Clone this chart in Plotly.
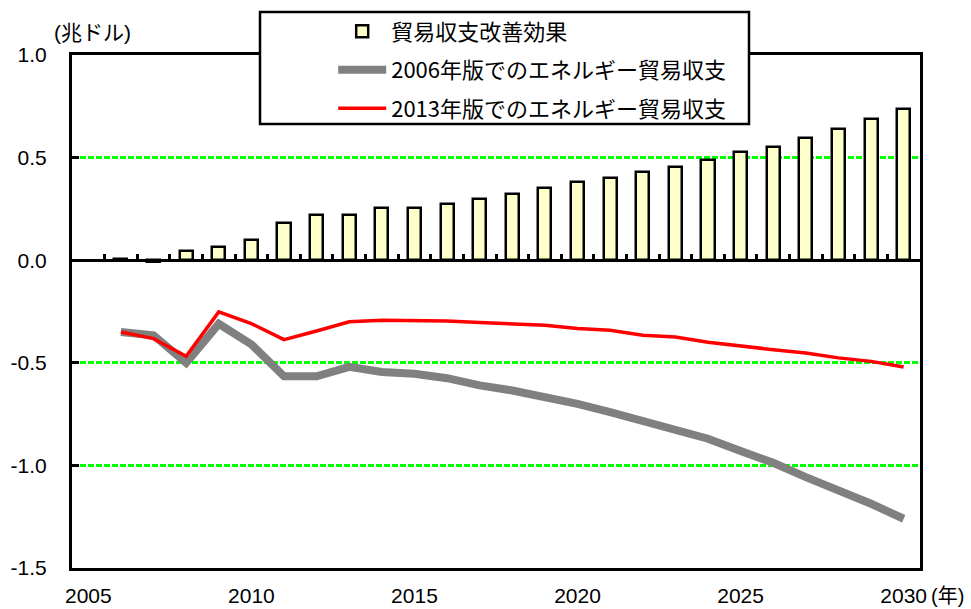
import plotly.graph_objects as go

years = list(range(2005, 2031))
improve = [None, 0.005, -0.008, 0.045, 0.062, 0.098, 0.18, 0.22, 0.22, 0.252, 0.252, 0.275,
           0.30, 0.325, 0.353, 0.379, 0.403, 0.428, 0.452, 0.486, 0.528, 0.553, 0.594,
           0.637, 0.686, 0.735]
line_years = list(range(2006, 2031))
bal_2006 = [-0.35, -0.366, -0.50, -0.31, -0.41, -0.566, -0.566, -0.52, -0.545, -0.553,
            -0.575, -0.61, -0.635, -0.665, -0.70, -0.74, -0.78, -0.82, -0.87, -0.93,
            -0.987, -1.057, -1.12, -1.187, -1.26]
bal_2013 = [-0.35, -0.382, -0.468, -0.252, -0.309, -0.387, -0.345, -0.30, -0.293, -0.293,
            -0.296, -0.304, -0.309, -0.317, -0.333, -0.341, -0.366, -0.374, -0.40, -0.42,
            -0.436, -0.452, -0.476, -0.493, -0.52]
x_ticks = [2005, 2010, 2015, 2020, 2025, 2030]
y_ticks = [1.0, 0.5, 0.0, -0.5, -1.0, -1.5]
y_tick_text = ["1.0", "0.5", "0.0", "-0.5", "-1.0", "-1.5"]
names = ["貿易収支改善効果", "2006年版でのエネルギー貿易収支", "2013年版でのエネルギー貿易収支"]

FONT = "Liberation Sans, Arial, Noto Sans CJK JP"
xr = [2004.5, 2030.5]

fig = go.Figure()
fig.add_trace(go.Scatter(x=line_years, y=bal_2006, mode="lines", name=names[1],
                         line=dict(color="#808080", width=8), legendgroup="b",
                         legendrank=2))
fig.add_trace(go.Scatter(x=line_years, y=bal_2013, mode="lines", name=names[2],
                         line=dict(color="#FF0000", width=3.5), legendgroup="c",
                         legendrank=3))
fig.add_trace(go.Bar(x=years, y=improve, name=names[0], width=0.4, xaxis="x2",
                     marker=dict(color="#FFFFCC", line=dict(color="black", width=2.5)),
                     legendgroup="a", legendrank=1))

fig.update_layout(
    width=971, height=609,
    margin=dict(l=72, r=51, t=55, b=41, autoexpand=False),
    paper_bgcolor="white", plot_bgcolor="white",
    font=dict(family=FONT, size=21, color="black"),
    showlegend=True,
    xaxis=dict(range=xr, tickvals=x_ticks, ticks="", showgrid=False, zeroline=False,
               showline=True, linecolor="black", linewidth=3, mirror=True,
               tickfont=dict(size=21), ticklabelstandoff=7, automargin=False),
    xaxis2=dict(range=xr, overlaying="x", anchor="free", position=0.6, side="bottom",
                tickvals=[y + 0.5 for y in years[:-1]], ticks="inside", ticklen=6,
                tickwidth=2.5, tickcolor="black", showticklabels=False,
                showgrid=False, zeroline=False, showline=False, automargin=False),
    yaxis=dict(range=[-1.5, 1.0], tickvals=y_ticks, ticktext=y_tick_text,
               ticks="inside", ticklen=7, tickwidth=2.5, tickcolor="black",
               showline=True, linecolor="black", linewidth=3, mirror=True,
               showgrid=True, gridcolor="#00FF00", gridwidth=2.5, griddash="6px,2px",
               zeroline=True, zerolinecolor="black", zerolinewidth=3,
               tickfont=dict(size=21), ticklabelstandoff=18, automargin=False),
    legend=dict(x=0.308, y=1.087, xanchor="left", yanchor="top",
                bgcolor="rgba(0,0,0,0)", borderwidth=0,
                font=dict(family="Noto Sans CJK JP, Liberation Sans", size=22),
                itemwidth=48, tracegroupgap=7, traceorder="grouped"),
    shapes=[dict(type="rect", xref="paper", yref="paper",
                 x0=(260 - 72) / 848, x1=(749 - 72) / 848,
                 y0=(568 - 124) / 513, y1=(568 - 12) / 513,
                 line=dict(color="black", width=2.5), fillcolor="white", layer="above")],
    annotations=[
        dict(text="(兆ドル)", xref="paper", yref="paper", x=(52 - 72) / 848,
             y=(568 - 32) / 513, xanchor="left", yanchor="middle", showarrow=False,
             font=dict(size=21, family="Liberation Sans, Noto Sans CJK JP")),
        dict(text="(年)", xref="paper", yref="paper", x=(966 - 72) / 848,
             y=(568 - 596) / 513, xanchor="right", yanchor="middle", showarrow=False,
             font=dict(size=20, family="Liberation Sans, Noto Sans CJK JP")),
    ],
    bargap=0,
)

fig.write_html("out.html")
